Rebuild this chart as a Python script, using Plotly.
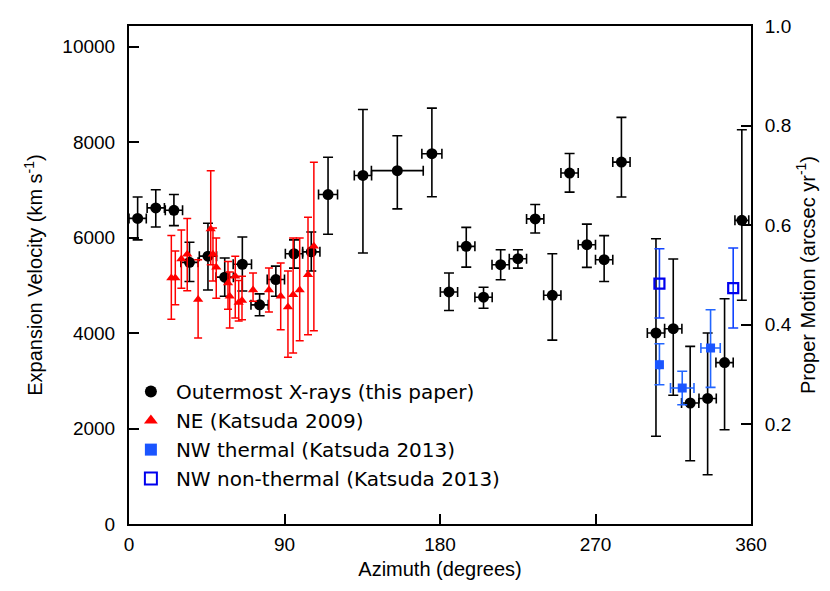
import plotly.graph_objects as go

# ---- Outermost X-rays (this paper)
ox_az = [5, 15.5, 26, 35, 45.7, 55.4, 65.6, 75.6, 85, 95.5, 105.5, 115.2,
         135.4, 155.3, 175.3, 185.2, 195.2, 205.2, 215.1, 225.1, 235.1, 245,
         255, 265, 275, 285, 305, 315, 324.8, 334.9, 344.7, 354.7]
ox_az_err = [5, 5, 5, 5, 5, 5, 5.3, 5, 5, 5, 5, 5.5,
             5, 15, 5.8, 5, 5, 5, 5, 5, 5, 5,
             5, 5, 5, 5, 5, 5, 5, 5, 5, 4]
ox_vel = [6400, 6620, 6570, 5480, 5610, 5170, 5440, 4590, 5120, 5660, 5700, 6900,
          7300, 7400, 7755, 4860, 5815, 4750, 5430, 5556, 6390, 4790,
          7350, 5850, 5535, 7580, 4000, 4090, 2534, 2630, 3380, 6360]
ox_hi = [6850, 7000, 6900, 5900, 6300, 5570, 6010, 4820, 5400, 5950, 6115, 7680,
         8680, 8130, 8710, 5256, 6213, 4960, 5745, 5745, 6690, 5660,
         7760, 6280, 6040, 8517, 5975, 5550, 3720, 4000, 4718, 8258]
ox_lo = [5950, 6220, 6250, 5080, 4900, 4770, 4880, 4360, 4770, 5360, 5300, 6070,
         5675, 6600, 6855, 4470, 5380, 4520, 5115, 5360, 6094, 3850,
         6950, 5375, 5080, 6850, 1837, 2695, 1326, 1033, 1975, 4685]

# ---- NE (Katsuda 2009)
ne_az = [24.5, 26.8, 30.3, 33.7, 40, 47.3, 48.6, 50.5, 57.3, 58.3, 61.5, 63.5,
         65.4, 71.8, 81, 87.8, 92, 95, 98.8, 103.6, 107]
ne_vel = [5150, 5150, 5550, 5650, 4700, 6180, 5650, 5376, 5050, 4770, 5190, 4640,
          4680, 4900, 4900, 4770, 4545, 4800, 4900, 5220, 5815]
ne_hi = [6040, 5717, 6160, 6400, 5535, 7400, 6200, 5990, 5500, 5277, 5606, 5100,
         5187, 5256, 5361, 5466, 5298, 5990, 5990, 6423, 7575]
ne_lo = [4290, 4590, 4940, 4885, 3895, 5430, 5090, 4730, 4500, 4105, 4314, 4250,
         4278, 4664, 4440, 4069, 3490, 3580, 3839, 3964, 4050]

# ---- NW thermal (Katsuda 2013)
nwt_az = [307, 320.2, 336.6]
nwt_az_err = [0, 6.8, 5.6]
nwt_vel = [3336, 2848, 3686]
nwt_hi = [3776, 3198, 4488]
nwt_lo = [2917, 2498, 2862]

# ---- NW non-thermal (Katsuda 2013)
nwn_az = [307, 349.7]
nwn_vel = [5033, 4942]
nwn_hi = [5766, 5780]
nwn_lo = [4314, 4105]

x_ticks = [0, 90, 180, 270, 360]
y_ticks = [0, 2000, 4000, 6000, 8000, 10000]
y_tick_labels = ["0", "2000", "4000", "6000", "8000", "10000"]
pm_ticks = [0.2, 0.4, 0.6, 0.8, 1.0]
VMAX = 10430


def plus(v, hi):
    return [h - a for a, h in zip(v, hi)]


def minus(v, lo):
    return [a - l for a, l in zip(v, lo)]


fig = go.Figure()
fig.add_trace(go.Scatter(
    x=ox_az, y=ox_vel, mode="markers", name="Outermost X-rays (this paper)",
    legendgroup="a",
    marker=dict(symbol="circle", size=11, color="black"),
    error_y=dict(type="data", symmetric=False, array=plus(ox_vel, ox_hi),
                 arrayminus=minus(ox_vel, ox_lo), color="black", thickness=1.6, width=5),
    error_x=dict(type="data", array=ox_az_err, color="black", thickness=1.6, width=5),
))
fig.add_trace(go.Scatter(
    x=ne_az, y=ne_vel, mode="markers", name="NE (Katsuda 2009)", legendgroup="b",
    marker=dict(symbol="triangle-up", size=9, color="#ff0000"),
    error_y=dict(type="data", symmetric=False, array=plus(ne_vel, ne_hi),
                 arrayminus=minus(ne_vel, ne_lo), color="#ff0000", thickness=1.5, width=4),
))
fig.add_trace(go.Scatter(
    x=nwt_az, y=nwt_vel, mode="markers", name="NW thermal (Katsuda 2013)", legendgroup="c",
    marker=dict(symbol="square", size=9, color="#1a55ff"),
    error_y=dict(type="data", symmetric=False, array=plus(nwt_vel, nwt_hi),
                 arrayminus=minus(nwt_vel, nwt_lo), color="#2266ff", thickness=1.6, width=5),
    error_x=dict(type="data", array=nwt_az_err, color="#2266ff", thickness=1.6, width=5),
))
fig.add_trace(go.Scatter(
    x=nwn_az, y=nwn_vel, mode="markers", name="NW non-thermal (Katsuda 2013)", legendgroup="d",
    marker=dict(symbol="square-open", size=10, color="#0000ee", line=dict(width=2.2)),
    error_y=dict(type="data", symmetric=False, array=plus(nwn_vel, nwn_hi),
                 arrayminus=minus(nwn_vel, nwn_lo), color="#1144ff", thickness=1.6, width=5),
))
# invisible trace for right axis
fig.add_trace(go.Scatter(x=[0], y=[0], yaxis="y2", mode="markers",
                         marker=dict(opacity=0), showlegend=False, hoverinfo="skip"))

font = "Liberation Sans, Arial, sans-serif"
fig.update_layout(
    width=830, height=591,
    margin=dict(l=121, r=87, t=18, b=75),
    plot_bgcolor="white", paper_bgcolor="white",
    font=dict(family=font, size=19, color="black"),
    showlegend=True,
    legend=dict(x=-0.005, y=0.305, xanchor="left", yanchor="top",
                font=dict(family="DejaVu Sans, sans-serif", size=20),
                bgcolor="rgba(0,0,0,0)", tracegroupgap=0, itemsizing="constant",
                itemwidth=40),
    xaxis=dict(range=[0, 360], tickvals=x_ticks, ticks="inside", ticklen=10,
               tickwidth=2, tickcolor="black", showline=True, linewidth=2,
               linecolor="black", mirror=True, showgrid=False, zeroline=False,
               ticklabelstandoff=2, automargin=False, tickfont=dict(size=19),
               title=dict(text="Azimuth (degrees)", standoff=8,
                          font=dict(size=20))),
    yaxis=dict(range=[0, VMAX], tickvals=y_ticks, ticktext=y_tick_labels,
               ticks="inside", ticklen=10,
               tickwidth=2, tickcolor="black", showline=True, linewidth=2,
               linecolor="black", showgrid=False, zeroline=False,
               ticklabelstandoff=8, automargin=False, tickfont=dict(size=19),
               title=dict(text="Expansion Velocity (km s<sup>-1</sup>)", standoff=14,
                          font=dict(size=20))),
    yaxis2=dict(range=[0, 1.0], tickvals=pm_ticks, tickformat=".1f", overlaying="y",
                side="right", ticks="inside", ticklen=10, tickwidth=2,
                tickcolor="black", showline=True, linewidth=2, linecolor="black",
                showgrid=False, zeroline=False, ticklabelstandoff=8,
                automargin=False, tickfont=dict(size=19),
                title=dict(text="Proper Motion (arcsec yr<sup>-1</sup>)", standoff=10,
                           font=dict(size=20))),
)

fig.write_html("out.html")
